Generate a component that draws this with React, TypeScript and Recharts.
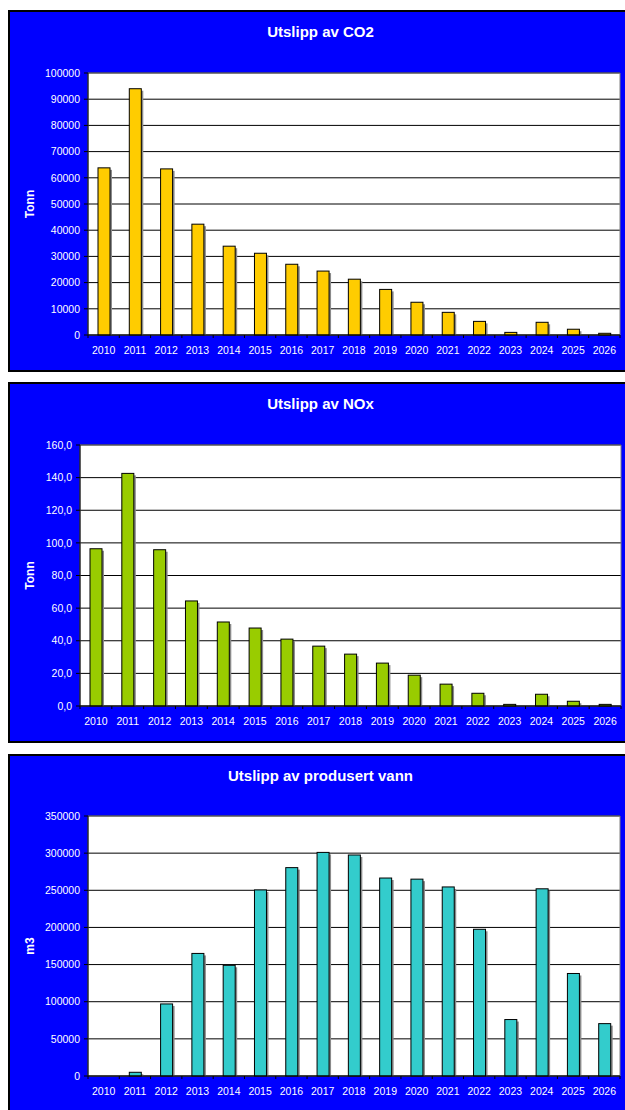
import React from "react";
import {
  BarChart,
  Bar,
  XAxis,
  YAxis,
  CartesianGrid,
  ReferenceArea,
} from "recharts";

const years = [
  "2010", "2011", "2012", "2013", "2014", "2015", "2016", "2017", "2018",
  "2019", "2020", "2021", "2022", "2023", "2024", "2025", "2026",
];

// Tonn CO2 per år
const co2Tonn = [
  63800, 94000, 63400, 42300, 33900, 31200, 27000, 24400, 21300, 17400,
  12500, 8650, 5200, 1000, 4850, 2200, 650,
];
// Tonn NOx per år
const noxTonn = [
  96.4, 142.6, 95.8, 64.4, 51.5, 47.8, 41.0, 36.7, 31.8, 26.3, 18.9, 13.4,
  7.8, 1.0, 7.2, 2.9, 1.0,
];
// m3 produsert vann per år
const vannM3 = [
  0, 5000, 97000, 165000, 149000, 250500, 280500, 301000, 297500, 266500,
  265000, 254500, 197500, 76000, 252000, 138000, 70500,
];

const co2Ticks = [0, 10000, 20000, 30000, 40000, 50000, 60000, 70000, 80000, 90000, 100000];
const noxTicks = [0, 20, 40, 60, 80, 100, 120, 140, 160];
const vannTicks = [0, 50000, 100000, 150000, 200000, 250000, 300000, 350000];

const FONT = "Arial, 'Liberation Sans', sans-serif";
const PANEL_W = 625;

const ShadowBar = (props: any) => {
  const { x, y, width, height, fill } = props;
  if (!height || height <= 0) return null;
  return (
    <g>
      <rect x={x + 2} y={y + 2} width={width} height={Math.max(0, height - 2)} fill="#8a8a8a" />
      <rect x={x} y={y} width={width} height={height} fill={fill} stroke="#000" strokeWidth={1} />
    </g>
  );
};

// x-axis label with tick marks on the category boundaries
const YearTick = (props: any) => {
  const { x, y, payload, index, bw, last } = props;
  return (
    <g>
      <line x1={x - bw / 2} y1={y} x2={x - bw / 2} y2={y + 3} stroke="#000" />
      {index === last && <line x1={x + bw / 2} y1={y} x2={x + bw / 2} y2={y + 3} stroke="#000" />}
      <text x={x} y={y + 15} dy="0.35em" textAnchor="middle" fill="#fff" fontSize={10.5} fontFamily={FONT}>
        {payload.value}
      </text>
    </g>
  );
};

const AxisTitle = (props: any) => {
  const { viewBox, text } = props;
  const cx = viewBox.x + 22;
  const cy = viewBox.y + viewBox.height / 2;
  return (
    <text
      x={cx}
      y={cy}
      dy="0.35em"
      transform={`rotate(-90, ${cx}, ${cy})`}
      textAnchor="middle"
      fill="#fff"
      fontSize={12}
      fontWeight="bold"
      fontFamily={FONT}
    >
      {text}
    </text>
  );
};

type PanelProps = {
  title: string;
  yLabel: string;
  values: number[];
  ticks: number[];
  format: (v: number) => string;
  color: string;
  top: number;
  height: number;
  axisW: number;
  margin: { top: number; right: number; bottom: number };
};

const Panel = ({ title, yLabel, values, ticks, format, color, top, height, axisW, margin }: PanelProps) => {
  const data = years.map((year, i) => ({ year, value: values[i] }));
  const max = ticks[ticks.length - 1];
  const bw = (PANEL_W - axisW - margin.right) / years.length;
  return (
    <div
      style={{
        position: "absolute",
        left: 8,
        top,
        width: PANEL_W,
        height,
        boxSizing: "border-box",
        background: "#0000ff",
        border: "2px solid #000",
      }}
    >
      <div
        style={{
          position: "absolute",
          left: 0,
          right: 0,
          top: 12,
          height: 16,
          lineHeight: "16px",
          textAlign: "center",
          color: "#fff",
          fontWeight: "bold",
          fontSize: 15,
          fontFamily: FONT,
        }}
      >
        {title}
      </div>
      <div style={{ position: "absolute", left: -2, top: -2 }}>
        <BarChart
          width={PANEL_W}
          height={height}
          data={data}
          margin={{ top: margin.top, right: margin.right, bottom: margin.bottom, left: 0 }}
          barSize={12}
        >
          <CartesianGrid vertical={false} stroke="#000" fill="#fff" fillOpacity={1} />
          <ReferenceArea y1={0} y2={max} fill="none" stroke="#808080" ifOverflow="visible" />
          <XAxis
            dataKey="year"
            height={30}
            tickSize={0}
            tickMargin={0}
            tickLine={false}
            axisLine={{ stroke: "#000" }}
            interval={0}
            tick={<YearTick bw={bw} last={years.length - 1} />}
          />
          <YAxis
            width={axisW}
            domain={[0, max]}
            ticks={ticks}
            interval={0}
            tickFormatter={format}
            tickSize={4}
            tickMargin={4}
            axisLine={{ stroke: "#000" }}
            tickLine={{ stroke: "#000" }}
            tick={{ fill: "#fff", fontSize: 10.5, fontFamily: FONT }}
            label={<AxisTitle text={yLabel} />}
          />
          <Bar dataKey="value" fill={color} shape={<ShadowBar />} isAnimationActive={false} />
        </BarChart>
      </div>
    </div>
  );
};

export default function App() {
  return (
    <div
      style={{
        position: "fixed",
        left: 0,
        top: 0,
        width: 625,
        height: 1110,
        overflow: "hidden",
        background: "#fff",
        fontFamily: FONT,
      }}
    >
      <Panel
        title="Utslipp av CO2"
        yLabel="Tonn"
        values={co2Tonn}
        ticks={co2Ticks}
        format={(v) => String(v)}
        color="#ffcc00"
        top={10}
        height={362}
        axisW={80}
        margin={{ top: 63, right: 13, bottom: 7 }}
      />
      <Panel
        title="Utslipp av NOx"
        yLabel="Tonn"
        values={noxTonn}
        ticks={noxTicks}
        format={(v) => v.toFixed(1).replace(".", ",")}
        color="#99cc00"
        top={382}
        height={361}
        axisW={72}
        margin={{ top: 63, right: 12, bottom: 7 }}
      />
      <Panel
        title="Utslipp av produsert vann"
        yLabel="m3"
        values={vannM3}
        ticks={vannTicks}
        format={(v) => String(v)}
        color="#33cccc"
        top={754}
        height={370}
        axisW={80}
        margin={{ top: 62, right: 13, bottom: 18 }}
      />
    </div>
  );
}
